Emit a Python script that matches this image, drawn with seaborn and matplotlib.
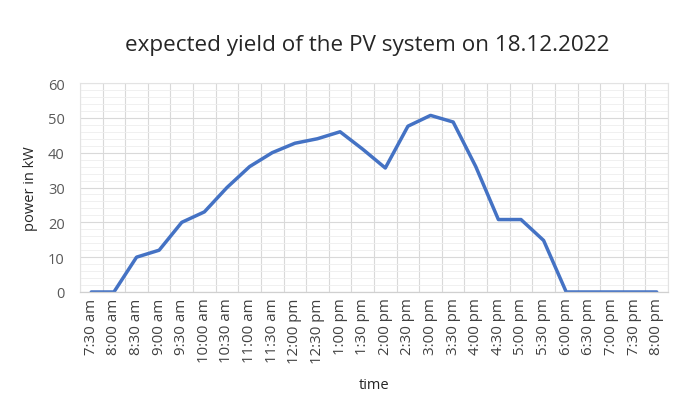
import matplotlib
matplotlib.use("Agg")
import matplotlib.pyplot as plt
import seaborn as sns
import pandas as pd
import numpy as np
from matplotlib.ticker import MultipleLocator, FixedLocator

times = ["7:30 am", "8:00 am", "8:30 am", "9:00 am", "9:30 am", "10:00 am",
         "10:30 am", "11:00 am", "11:30 am", "12:00 pm", "12:30 pm", "1:00 pm",
         "1:30 pm", "2:00 pm", "2:30 pm", "3:00 pm", "3:30 pm", "4:00 pm",
         "4:30 pm", "5:00 pm", "5:30 pm", "6:00 pm", "6:30 pm", "7:00 pm",
         "7:30 pm", "8:00 pm"]
power = [0, 0, 10, 12, 20, 23, 30, 36, 40, 42.7, 44, 46, 41, 35.6, 47.6,
         50.7, 48.8, 36, 20.8, 20.8, 14.8, 0, 0, 0, 0, 0]
y_ticks = [0, 10, 20, 30, 40, 50, 60]

sns.set_style("white")
plt.rcParams['font.family'] = ['Open Sans', 'DejaVu Sans']

df = pd.DataFrame({"time": times, "power": power})
df["pos"] = np.arange(len(times))

fig = plt.figure(figsize=(6.91, 4.10), dpi=100)
ax = fig.add_axes([80/691, 1-293/410, (668-80)/691, (293-84)/410])

sns.lineplot(data=df, x="pos", y="power", ax=ax, color="#4472C4",
             linewidth=2.5, solid_capstyle="round")

n = len(times)
ax.set_xlim(-0.5, n - 0.5)
ax.set_ylim(0, 60)
ax.set_xticks(np.arange(n))
ax.set_xticklabels(times, rotation=90, fontsize=10.8, color="#404040")
ax.xaxis.set_minor_locator(FixedLocator(np.arange(-0.5, n, 1.0)))
ax.set_yticks(y_ticks)
ax.set_yticklabels([str(v) for v in y_ticks], fontsize=10.5, color="#595959")
ax.yaxis.set_minor_locator(MultipleLocator(2))

ax.tick_params(axis="x", which="major", length=0, pad=4)
ax.tick_params(axis="x", which="minor", length=5, direction="inout", color="#d0d0d0", width=0.8)
ax.tick_params(axis="y", which="both", length=0, pad=11)

ax.grid(which="major", axis="y", color="#d9d9d9", linewidth=0.8)
ax.grid(which="minor", axis="y", color="#eeeeee", linewidth=0.6)
ax.grid(which="minor", axis="x", color="#d9d9d9", linewidth=0.8)
ax.grid(which="major", axis="x", visible=False)
ax.set_axisbelow(True)

for side in ["top", "left", "right"]:
    ax.spines[side].set_color("#e3e3e3")
    ax.spines[side].set_linewidth(0.8)
ax.spines["bottom"].set_color("#d0d0d0")
ax.spines["bottom"].set_linewidth(0.9)

ax.set_xlabel("time", fontsize=10.5, color="#262626", labelpad=10)
ax.set_ylabel("power in kW", fontsize=10.5, color="#262626", labelpad=7)
fig.text(367/691, 1 - 46/410,
         "expected yield of the PV system on 18.12.2022",
         ha="center", va="center", fontsize=16.2, color="#262626")

fig.savefig("out.png", dpi=100, facecolor="white")
